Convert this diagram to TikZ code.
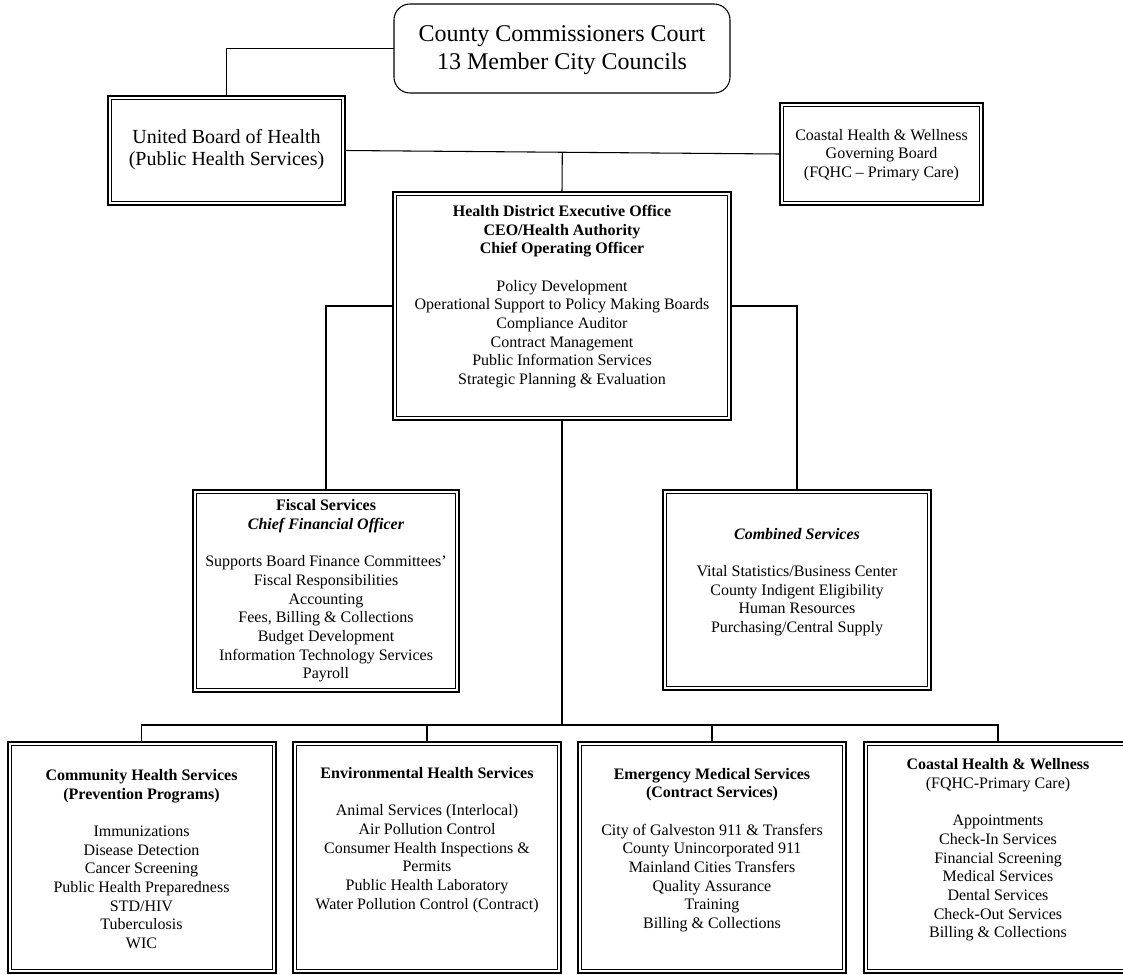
\documentclass[tikz,border=0pt]{standalone}
\usepackage{fontspec}
\setmainfont{Liberation Serif}
\usetikzlibrary{calc}
\tikzset{
  boxsize/.style 2 args={minimum width={#1*0.75pt},minimum height={#2*0.75pt}},
  frame/.style={draw,line width=1.5pt,inner sep=0pt,outer sep=0pt},
  roundframe/.style={draw,line width=0.8pt,rounded corners=12pt,inner sep=0pt,outer sep=0pt},
  innerframe/.style={line width=0.6pt},
  conn/.style={line width=0.8pt},
  body/.style={align=center,inner sep=0pt,font=\fontsize{12}{14}\selectfont},
  bigtext/.style={align=center,inner sep=0pt,font=\fontsize{18}{21}\selectfont},
  midtext/.style={align=center,inner sep=0pt,font=\fontsize{15}{16}\selectfont}
}
\begin{document}
\begin{tikzpicture}[x=0.75pt,y=-0.75pt]

\useasboundingbox (0,0) rectangle (1123,974);
\clip (0,0) rectangle (1123,974);
\fill[white] (0,0) rectangle (1123,974);

% ---- frames ----
\node[roundframe,boxsize={336}{89}] (top)  at (562,48.5) {};
\node[frame,boxsize={237}{109}]     (ubh)  at (226.5,150.5) {};
\node[frame,boxsize={203}{102}]     (chwb) at (881.5,154) {};
\node[frame,boxsize={338}{228}]     (hdeo) at (562,306) {};
\node[frame,boxsize={266}{202}]     (fisc) at (326,591) {};
\node[frame,boxsize={268}{200}]     (comb) at (797,590) {};
\node[frame,boxsize={268}{230.5}]   (chs)  at (141.5,857.25) {};
\node[frame,boxsize={268}{230.5}]   (ehs)  at (427,857.25) {};
\node[frame,boxsize={268}{230.5}]   (ems)  at (712,857.25) {};
\node[frame,boxsize={268}{230.5}]   (chw)  at (998,857.25) {};

% inner line of each double border
\foreach \n in {ubh,chwb,hdeo,fisc,comb,chs,ehs,ems,chw}
  \draw[innerframe] ([xshift=2.7pt,yshift=-2.7pt]\n.north west) rectangle ([xshift=-2.7pt,yshift=2.7pt]\n.south east);

% ---- texts ----
\node[bigtext] (topT) at (562,50) {County Commissioners Court\\13 Member City Councils};
\node[midtext] (ubhT) at (226.5,149.5) {United Board of Health\\(Public Health Services)};
\node[body] (chwbT) at (881.5,155) {Coastal Health \& Wellness\\Governing Board\\(FQHC – Primary Care)};
\node[body] (hdeoT) at (562,296.5) {\textbf{Health District Executive Office}\\\textbf{CEO/Health Authority}\\\textbf{Chief Operating Officer}\\[14pt]
  Policy Development\\Operational Support to Policy Making Boards\\Compliance Auditor\\Contract Management\\Public Information Services\\Strategic Planning \& Evaluation};
\node[body] (fiscT) at (326,591) {\textbf{Fiscal Services}\\\textbf{\textit{Chief Financial Officer}}\\[14pt]
  Supports Board Finance Committees’\\Fiscal Responsibilities\\Accounting\\Fees, Billing \& Collections\\Budget Development\\Information Technology Services\\Payroll};
\node[body] (combT) at (797,582) {\textbf{\textit{Combined Services}}\\[14pt]
  Vital Statistics/Business Center\\County Indigent Eligibility\\Human Resources\\Purchasing/Central Supply};
\node[body] (chsT) at (141.5,859) {\textbf{Community Health Services}\\\textbf{(Prevention Programs)}\\[14pt]
  Immunizations\\Disease Detection\\Cancer Screening\\Public Health Preparedness\\STD/HIV\\Tuberculosis\\WIC};
\node[body] (ehsT) at (427,840) {\textbf{Environmental Health Services}\\[14pt]
  Animal Services (Interlocal)\\Air Pollution Control\\Consumer Health Inspections \&\\Permits\\Public Health Laboratory\\Water Pollution Control (Contract)};
\node[body] (emsT) at (712,850) {\textbf{Emergency Medical Services}\\\textbf{(Contract Services)}\\[14pt]
  City of Galveston 911 \& Transfers\\County Unincorporated 911\\Mainland Cities Transfers\\Quality Assurance\\Training\\Billing \& Collections};
\node[body] (chwT) at (998,850) {\textbf{Coastal Health \& Wellness}\\(FQHC-Primary Care)\\[14pt]
  Appointments\\Check-In Services\\Financial Screening\\Medical Services\\Dental Services\\Check-Out Services\\Billing \& Collections};

% ---- connectors ----
\coordinate (bus) at (562,725);
\draw[conn] (top.west) -| (ubh.north);
\draw[conn] (ubh.east) -- (chwb.west);
\draw[conn] (hdeo.north) -- ($(ubh.east)!(hdeo.north)!(chwb.west)$);
\draw[conn] (hdeo.west) -| (fisc.north);
\draw[conn] (hdeo.east) -| (comb.north);
\draw[conn] (hdeo.south) -- (bus);
\draw[conn] (chs.north) |- (bus) -| (chw.north);
\draw[conn] (ehs.north) -- (ehs.north |- bus);
\draw[conn] (ems.north) -- (ems.north |- bus);
\end{tikzpicture}
\end{document}
